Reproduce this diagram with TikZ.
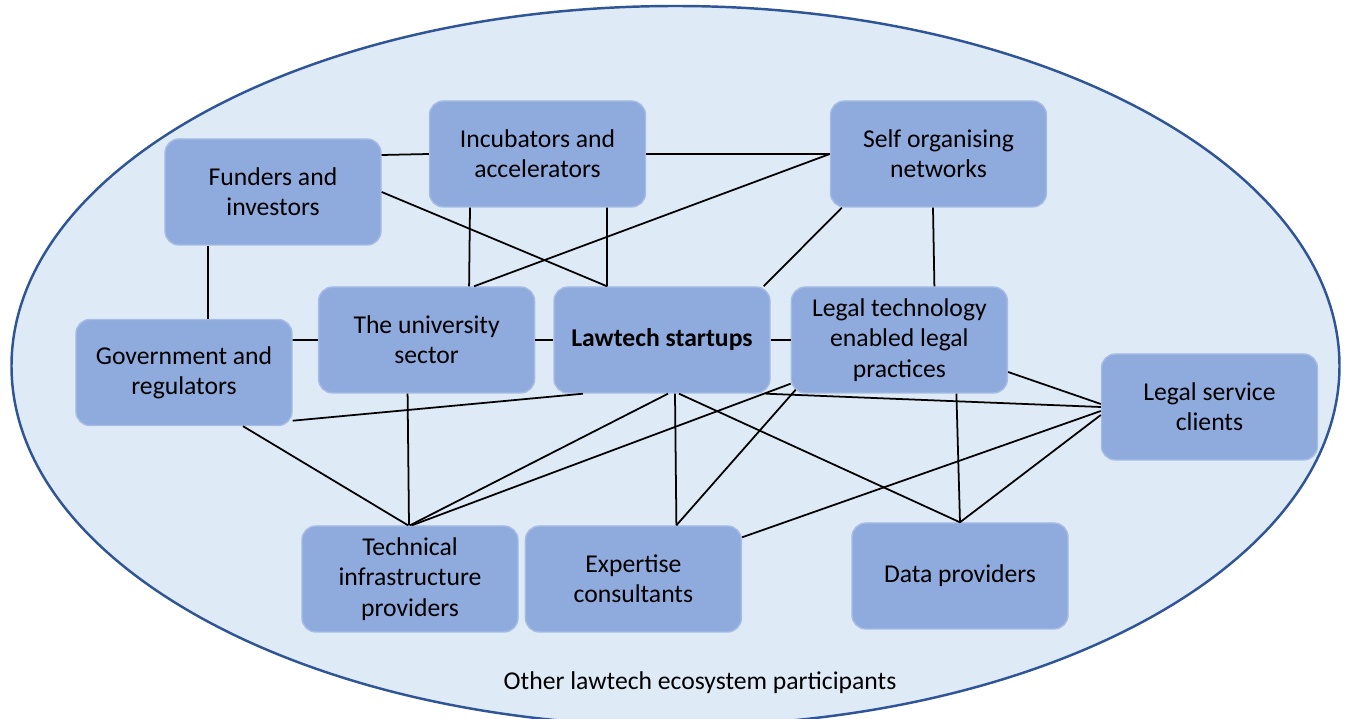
\documentclass[tikz,border=0pt]{standalone}
\usepackage{fontspec}
\setmainfont{Carlito}
\usepackage{xcolor}
\usepackage{tikz}
\usetikzlibrary{shapes,positioning,calc}
\definecolor{boxblue}{HTML}{8FAADC}
\definecolor{boxedge}{HTML}{A6BCE4}
\definecolor{ecofill}{HTML}{DEEAF6}
\definecolor{ecoedge}{HTML}{2F5597}

\begin{document}
\begin{tikzpicture}[node distance=0.18cm, box/.style={rectangle, draw=boxedge, line width=0.4pt, rounded corners=0.14cm, fill=boxblue, text centered, align=center, minimum width=2.16cm, minimum height=1.06cm, inner sep=0pt, font=\fontsize{7.3}{8.6}\selectfont}, link/.style={line width=0.5pt}]
        \useasboundingbox (0,0) rectangle (13.47,-7.19);
        \begin{scope}
            \clip (0,0) rectangle (13.47,-7.19);
            \draw[ecoedge, fill=ecofill, line width=0.7pt] (6.755,-3.66) ellipse [x radius=6.64cm, y radius=3.6cm];
        \end{scope}
        \node[font=\fontsize{7.3}{8.6}\selectfont] (others) at (7.00,-6.83) {Other lawtech ecosystem participants};

        \node[box] (startups) at (6.62,-3.40) {\textbf{Lawtech startups}};
        \node[box, left=of startups] (uni) {The university\\sector};
        \node[box, right=0.2cm of startups] (practices) {Legal technology\\enabled legal\\practices};
        \node[box] (gov) at (1.84,-3.725) {Government and\\regulators};
        \node[box] (funders) at (2.73,-1.92) {Funders and\\investors};
        \node[box] (incub) at (5.375,-1.54) {Incubators and\\accelerators};
        \node[box] (selforg) at (9.385,-1.54) {Self organising\\networks};
        \node[box] (clients) at (12.095,-4.07) {Legal service\\clients};
        \node[box] (tech) at (4.10,-5.79) {Technical\\infrastructure\\providers};
        \node[box, right=0.06cm of tech] (expert) {Expertise\\consultants};
        \node[box] (data) at (9.60,-5.76) {Data providers};

        \draw[link] ([yshift=0.37cm]funders.east) -- (incub.west);
        \draw[link] (funders.east) -- ([xshift=-0.55cm]startups.north);
        \draw[link] ([xshift=-0.65cm]funders.south) -- ([xshift=0.24cm]gov.north);
        \draw[link] ([xshift=-0.675cm]incub.south) -- ([xshift=0.425cm]uni.north);
        \draw[link] ([xshift=0.695cm]incub.south) -- ([xshift=-0.55cm]startups.north);
        \draw[link] (incub.east) -- (selforg.west);
        \draw[link] (selforg.west) -- ([xshift=0.475cm]uni.north);
        \draw[link] ([xshift=0.12cm]selforg.south west) -- ([xshift=-0.07cm]startups.north east);
        \draw[link] ([xshift=-0.055cm]selforg.south) -- ([xshift=0.35cm]practices.north);
        \draw[link] ([yshift=0.325cm]gov.east) -- (uni.west);
        \draw[link] (uni.east) -- (startups.west);
        \draw[link] (startups.east) -- (practices.west);
        \draw[link] ([yshift=0.055cm]gov.south east) -- ([xshift=-0.79cm]startups.south);
        \draw[link] ([xshift=0.59cm]gov.south) -- ([xshift=-0.02cm]tech.north);
        \draw[link] ([xshift=-0.19cm]uni.south) -- ([xshift=-0.01cm]tech.north);
        \draw[link] ([xshift=0.06cm]startups.south) -- (tech.north);
        \draw[link] ([yshift=0.1cm]practices.south west) -- ([xshift=0.02cm]tech.north);
        \draw[link] ([xshift=0.13cm]startups.south) -- ([xshift=0.43cm]expert.north);
        \draw[link] ([xshift=0.05cm, yshift=0.04cm]practices.south west) -- ([xshift=0.43cm]expert.north);
        \draw[link] ([xshift=0.17cm]startups.south) -- (data.north);
        \draw[link] ([xshift=-0.05cm]startups.south east) -- (clients.west);
        \draw[link] ([yshift=-0.32cm]practices.east) -- ([yshift=0.03cm]clients.west);
        \draw[link] ([xshift=0.57cm]practices.south) -- (data.north);
        \draw[link] (data.north) -- ([yshift=-0.08cm]clients.west);
        \draw[link] ([yshift=-0.12cm]expert.north east) -- ([yshift=-0.04cm]clients.west);
    \end{tikzpicture}
\end{document}
